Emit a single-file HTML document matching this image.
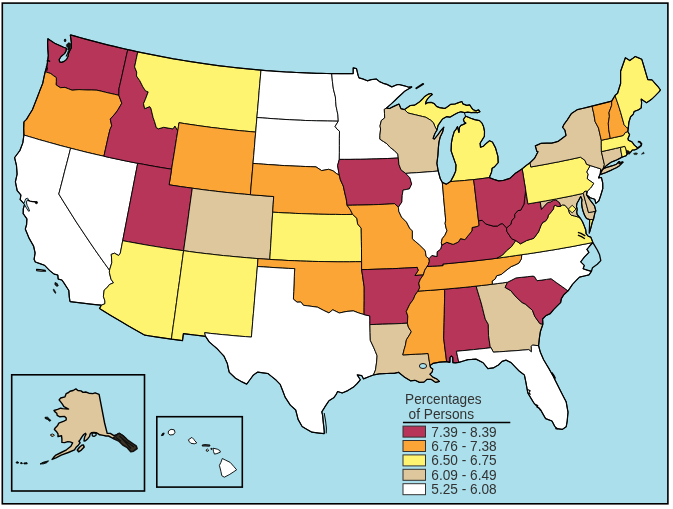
<!DOCTYPE html>
<html><head><meta charset="utf-8"><style>
html,body{margin:0;padding:0;background:#fff;}
svg{display:block;will-change:transform;}
text{font-family:"Liberation Sans",Arial,sans-serif;fill:#333;}
</style></head><body>
<svg width="673" height="509" viewBox="0 0 673 509">
<rect x="0" y="0" width="673" height="509" fill="#fff"/>
<rect x="2.3" y="3.1" width="665.6" height="500.7" fill="#AADFEB" stroke="#000" stroke-width="1.6"/>
<g stroke="#000" stroke-width="0.9" stroke-linejoin="round">
<path fill="#B8355A" d="M70.3,34.8 75.1,36.2 79.8,37.5 84.6,38.8 89.4,40.1 94.2,41.4 98.9,42.6 103.7,43.9 108.5,45.1 113.3,46.2 118.2,47.4 123.0,48.5 127.8,49.6 126.3,56.1 124.9,62.6 123.4,69.1 122.0,75.6 120.5,82.1 119.0,88.6 118.8,95.3 114.5,94.3 110.1,93.3 105.7,92.3 101.3,91.2 96.9,90.2 94.1,90.1 91.3,90.0 86.8,90.0 82.9,89.8 79.0,89.6 75.5,89.9 72.1,90.2 68.5,88.8 64.9,87.4 60.3,87.7 56.0,84.8 56.3,81.7 56.3,77.6 53.5,75.7 50.8,73.6 48.0,72.6 45.2,71.7 46.9,65.9 47.5,62.0 48.3,55.7 47.8,49.1 47.6,42.5 47.9,38.7 51.3,41.0 54.7,43.3 59.1,45.2 63.5,47.2 66.5,48.2 66.0,51.1 64.6,53.6 61.1,56.5 59.2,59.5 59.6,61.9 61.5,62.4 64.1,61.4 66.5,59.5 68.0,56.5 68.5,53.6 69.5,51.2 71.4,47.7 71.4,42.8 70.3,34.8Z"/>
<path fill="#FBA537" d="M45.2,71.7 48.0,72.6 50.8,73.6 53.5,75.7 56.3,77.6 56.3,81.7 56.0,84.8 60.3,87.7 64.9,87.4 68.5,88.8 72.1,90.2 75.5,89.9 79.0,89.6 82.9,89.8 86.8,90.0 91.3,90.0 94.1,90.1 96.9,90.2 101.3,91.2 105.7,92.3 110.1,93.3 114.5,94.3 118.8,95.3 121.8,103.2 118.1,109.6 115.7,113.0 110.3,119.1 111.7,125.8 110.0,129.4 108.4,136.1 106.9,142.8 105.4,149.5 103.9,156.2 98.4,155.0 92.8,153.7 87.2,152.4 81.7,151.0 76.2,149.6 70.6,148.2 65.4,146.8 60.2,145.5 55.0,144.0 49.8,142.6 44.6,141.1 39.4,139.7 34.2,138.1 29.1,136.6 23.9,135.0 23.7,128.4 23.9,121.9 26.5,119.4 29.4,114.5 32.4,109.7 35.0,103.1 37.6,96.5 40.1,89.9 42.7,83.4 43.9,77.5 45.2,71.7Z"/>
<path fill="#FFFFFF" d="M23.9,135.0 29.1,136.6 34.2,138.1 39.4,139.7 44.6,141.1 49.8,142.6 55.0,144.0 60.2,145.5 65.4,146.8 70.6,148.2 68.7,155.8 66.7,163.5 64.7,171.1 62.8,178.7 60.8,186.4 58.8,194.0 63.1,201.0 67.5,208.0 71.9,215.0 76.3,222.0 80.9,228.9 85.5,235.8 90.2,242.8 94.9,249.7 99.7,256.5 104.6,263.4 109.5,270.2 109.4,272.6 111.0,279.2 113.5,282.8 109.3,284.6 107.9,286.8 104.2,290.1 103.4,296.3 104.9,300.9 104.9,303.8 101.3,305.2 95.1,304.6 88.8,303.9 82.5,303.1 76.3,302.4 70.0,301.6 69.3,297.1 68.8,290.5 63.9,282.9 61.9,280.0 58.2,279.1 57.8,275.0 54.1,274.1 49.7,270.6 44.4,265.2 39.9,263.6 35.3,262.0 34.1,259.3 35.1,253.0 33.6,246.1 29.2,238.4 25.3,229.1 26.6,224.5 26.9,218.9 23.2,213.7 23.3,208.8 24.6,204.3 20.2,199.7 20.9,195.0 17.2,190.6 15.4,181.9 17.1,174.1 16.5,165.7 14.6,157.7 17.3,154.0 20.0,150.3 22.8,142.9 23.9,135.0Z"/>
<path fill="#FFFFFF" d="M70.6,148.2 76.2,149.6 81.7,151.0 87.2,152.4 92.8,153.7 98.4,155.0 103.9,156.2 109.5,157.5 115.1,158.7 120.8,159.9 126.4,161.1 132.0,162.2 137.7,163.3 136.2,171.0 134.7,178.7 133.2,186.5 131.7,194.2 130.2,202.0 128.7,209.7 127.2,217.4 125.7,225.2 124.2,232.9 122.7,240.7 121.5,247.0 120.3,253.2 118.6,255.5 114.5,253.2 111.2,254.4 111.5,257.0 111.8,262.7 109.5,270.2 104.6,263.4 99.7,256.5 94.9,249.7 90.2,242.8 85.5,235.8 80.9,228.9 76.3,222.0 71.9,215.0 67.5,208.0 63.1,201.0 58.8,194.0 60.8,186.4 62.8,178.7 64.7,171.1 66.7,163.5 68.7,155.8 70.6,148.2Z"/>
<path fill="#B8355A" d="M127.8,49.6 132.8,50.7 137.8,51.8 136.2,59.4 134.6,66.9 136.7,72.1 136.5,76.0 139.8,80.7 142.9,86.9 145.6,90.9 148.2,91.9 145.4,99.3 143.5,103.7 144.7,108.7 149.7,106.6 150.9,108.3 152.0,112.9 153.1,117.5 154.6,121.7 156.3,127.6 158.4,128.8 163.7,127.3 168.3,128.1 173.0,128.9 174.9,126.0 177.8,130.8 176.5,138.5 175.3,146.2 174.1,153.8 172.8,161.5 171.6,169.2 165.9,168.3 160.3,167.4 154.6,166.4 149.0,165.4 143.3,164.3 137.7,163.3 132.0,162.2 126.4,161.1 120.8,159.9 115.1,158.7 109.5,157.5 103.9,156.2 105.4,149.5 106.9,142.8 108.4,136.1 110.0,129.4 111.7,125.8 110.3,119.1 115.7,113.0 118.1,109.6 121.8,103.2 118.8,95.3 119.0,88.6 120.5,82.1 122.0,75.6 123.4,69.1 124.9,62.6 126.3,56.1 127.8,49.6Z"/>
<path fill="#FFF46F" d="M137.8,51.8 142.9,52.9 148.0,53.9 153.1,54.9 158.2,55.9 163.3,56.9 168.4,57.8 173.5,58.8 178.6,59.6 183.7,60.5 188.9,61.3 194.0,62.1 199.1,62.9 204.2,63.7 209.4,64.4 214.5,65.1 219.7,65.8 224.8,66.4 230.0,67.0 235.1,67.6 240.3,68.2 245.5,68.7 250.6,69.2 255.8,69.7 261.0,70.1 260.4,76.9 259.8,83.6 259.2,90.4 258.7,97.1 258.1,103.9 257.5,110.7 256.9,117.5 256.3,124.8 255.7,132.1 250.2,131.6 244.7,131.1 239.2,130.6 233.7,130.0 228.2,129.4 222.8,128.8 217.3,128.1 211.8,127.5 206.3,126.7 200.9,126.0 195.4,125.2 189.9,124.4 184.5,123.6 179.0,122.7 178.4,126.8 177.8,130.8 174.9,126.0 173.0,128.9 168.3,128.1 163.7,127.3 158.4,128.8 156.3,127.6 154.6,121.7 153.1,117.5 152.0,112.9 150.9,108.3 149.7,106.6 144.7,108.7 143.5,103.7 145.4,99.3 148.2,91.9 145.6,90.9 142.9,86.9 139.8,80.7 136.5,76.0 136.7,72.1 134.6,66.9 136.2,59.4 137.8,51.8Z"/>
<path fill="#FBA537" d="M179.0,122.7 184.5,123.6 189.9,124.4 195.4,125.2 200.9,126.0 206.3,126.7 211.8,127.5 217.3,128.1 222.8,128.8 228.2,129.4 233.7,130.0 239.2,130.6 244.7,131.1 250.2,131.6 255.7,132.1 255.0,139.9 254.4,147.7 253.7,155.5 253.0,163.4 252.4,171.2 251.7,179.0 251.0,186.9 250.4,194.7 244.6,194.2 238.7,193.7 232.9,193.1 227.1,192.5 221.3,191.9 215.5,191.2 209.7,190.5 203.9,189.8 198.1,189.0 192.3,188.2 186.5,187.4 180.7,186.6 174.9,185.7 169.1,184.8 170.4,177.0 171.6,169.2 172.8,161.5 174.1,153.8 175.3,146.2 176.5,138.5 177.8,130.8 178.4,126.8 179.0,122.7Z"/>
<path fill="#B8355A" d="M137.7,163.3 143.3,164.3 149.0,165.4 154.6,166.4 160.3,167.4 165.9,168.3 171.6,169.2 170.4,177.0 169.1,184.8 174.9,185.7 180.7,186.6 186.5,187.4 192.3,188.2 191.2,196.0 190.1,203.9 189.0,211.7 188.0,219.5 186.9,227.3 185.8,235.1 184.7,242.9 183.6,250.7 177.5,249.9 171.4,249.0 165.3,248.1 159.2,247.1 153.1,246.1 147.0,245.1 140.9,244.0 134.8,242.9 128.7,241.8 122.7,240.7 124.2,232.9 125.7,225.2 127.2,217.4 128.7,209.7 130.2,202.0 131.7,194.2 133.2,186.5 134.7,178.7 136.2,171.0 137.7,163.3Z"/>
<path fill="#DEC79C" d="M192.3,188.2 198.1,189.0 203.9,189.8 209.7,190.5 215.5,191.2 221.3,191.9 227.1,192.5 232.9,193.1 238.7,193.7 244.6,194.2 250.4,194.7 256.2,195.2 262.0,195.6 267.9,196.1 273.7,196.5 273.2,204.3 272.7,212.2 272.2,220.1 271.7,227.9 271.3,235.8 270.8,243.7 270.3,251.6 269.8,259.4 263.9,259.0 258.0,258.6 252.2,258.2 246.5,257.7 240.8,257.2 235.1,256.7 229.3,256.1 223.6,255.6 217.9,255.0 212.2,254.3 206.5,253.7 200.7,253.0 195.0,252.3 189.3,251.5 183.6,250.7 184.7,242.9 185.8,235.1 186.9,227.3 188.0,219.5 189.0,211.7 190.1,203.9 191.2,196.0 192.3,188.2Z"/>
<path fill="#FFF46F" d="M122.7,240.7 128.7,241.8 134.8,242.9 140.9,244.0 147.0,245.1 153.1,246.1 159.2,247.1 165.3,248.1 171.4,249.0 177.5,249.9 183.6,250.7 182.6,258.1 181.6,265.5 180.6,272.9 179.6,280.3 178.5,287.6 177.5,295.0 176.5,302.4 175.5,309.7 174.5,317.1 173.4,324.5 172.4,331.8 171.4,339.2 166.1,338.4 160.8,337.6 155.5,336.8 150.2,336.0 144.8,335.2 139.1,332.0 133.3,328.7 127.6,325.4 121.9,322.1 116.3,318.7 110.7,315.4 105.1,312.0 99.5,308.5 101.3,305.2 104.9,303.8 104.9,300.9 103.4,296.3 104.2,290.1 107.9,286.8 109.3,284.6 113.5,282.8 111.0,279.2 109.4,272.6 109.5,270.2 111.8,262.7 111.5,257.0 111.2,254.4 114.5,253.2 118.6,255.5 120.3,253.2 121.5,247.0 122.7,240.7Z"/>
<path fill="#FFF46F" d="M183.6,250.7 189.3,251.5 195.0,252.3 200.7,253.0 206.5,253.7 212.2,254.3 217.9,255.0 223.6,255.6 229.3,256.1 235.1,256.7 240.8,257.2 246.5,257.7 252.2,258.2 258.0,258.6 257.4,266.5 256.7,274.3 256.1,282.2 255.4,290.0 254.7,297.9 254.1,305.7 253.4,313.6 252.7,321.4 252.1,329.3 251.4,337.1 245.5,336.6 239.7,336.2 233.9,335.7 228.0,335.1 222.2,334.6 216.3,334.0 210.5,333.4 204.7,332.7 205.5,336.3 199.9,335.7 194.4,335.0 188.9,334.3 183.4,333.6 182.5,340.6 177.0,339.9 171.4,339.2 172.4,331.8 173.4,324.5 174.5,317.1 175.5,309.7 176.5,302.4 177.5,295.0 178.5,287.6 179.6,280.3 180.6,272.9 181.6,265.5 182.6,258.1 183.6,250.7Z"/>
<path fill="#FFFFFF" d="M261.0,70.1 266.0,70.6 271.0,70.9 276.1,71.3 281.1,71.6 286.2,72.0 291.2,72.2 296.3,72.5 301.3,72.7 306.4,72.9 311.4,73.1 316.5,73.3 321.5,73.4 326.6,73.5 331.7,73.6 332.4,81.3 333.4,89.1 335.4,96.9 335.7,101.5 336.1,106.2 337.0,110.5 337.9,114.8 338.3,121.2 332.9,121.1 327.5,121.0 322.0,120.9 316.6,120.8 311.2,120.6 305.7,120.5 300.3,120.2 294.9,120.0 289.5,119.7 284.0,119.4 278.6,119.1 273.2,118.7 267.8,118.3 262.4,117.9 256.9,117.5 257.5,110.7 258.1,103.9 258.7,97.1 259.2,90.4 259.8,83.6 260.4,76.9 261.0,70.1Z"/>
<path fill="#FFFFFF" d="M256.9,117.5 262.4,117.9 267.8,118.3 273.2,118.7 278.6,119.1 284.0,119.4 289.5,119.7 294.9,120.0 300.3,120.2 305.7,120.5 311.2,120.6 316.6,120.8 322.0,120.9 327.5,121.0 332.9,121.1 338.3,121.2 335.1,126.4 337.0,129.1 339.5,131.2 339.4,138.2 339.4,145.3 339.4,152.3 339.3,159.4 337.6,165.6 338.7,171.9 339.3,175.2 336.4,173.5 333.0,170.8 328.5,169.3 325.0,170.0 321.6,170.6 316.0,166.9 310.8,166.7 305.5,166.5 300.3,166.3 295.0,166.1 289.8,165.8 284.5,165.6 279.3,165.3 274.0,164.9 268.8,164.6 263.5,164.2 258.3,163.8 253.0,163.4 253.7,155.5 254.4,147.7 255.0,139.9 255.7,132.1 256.3,124.8 256.9,117.5Z"/>
<path fill="#FBA537" d="M253.0,163.4 258.3,163.8 263.5,164.2 268.8,164.6 274.0,164.9 279.3,165.3 284.5,165.6 289.8,165.8 295.0,166.1 300.3,166.3 305.5,166.5 310.8,166.7 316.0,166.9 321.6,170.6 325.0,170.0 328.5,169.3 333.0,170.8 336.4,173.5 339.3,175.2 340.4,179.8 343.3,186.1 345.0,194.0 346.2,198.7 347.1,205.3 350.3,209.7 352.6,214.4 346.9,214.5 341.2,214.5 335.5,214.4 329.8,214.4 324.1,214.3 318.3,214.2 312.6,214.0 306.9,213.8 301.2,213.6 295.5,213.4 289.8,213.1 284.1,212.9 278.4,212.5 272.7,212.2 273.2,204.3 273.7,196.5 267.9,196.1 262.0,195.6 256.2,195.2 250.4,194.7 251.0,186.9 251.7,179.0 252.4,171.2 253.0,163.4Z"/>
<path fill="#FFF46F" d="M272.7,212.2 278.4,212.5 284.1,212.9 289.8,213.1 295.5,213.4 301.2,213.6 306.9,213.8 312.6,214.0 318.3,214.2 324.1,214.3 329.8,214.4 335.5,214.4 341.2,214.5 346.9,214.5 352.6,214.4 356.9,218.3 357.6,223.9 361.2,228.2 361.3,234.9 361.4,241.6 361.5,248.3 361.5,255.0 361.6,261.7 355.5,261.7 349.4,261.8 343.2,261.8 337.1,261.8 331.0,261.7 324.9,261.6 318.7,261.5 312.6,261.4 306.5,261.2 300.4,261.0 294.3,260.7 288.2,260.5 282.0,260.1 275.9,259.8 269.8,259.4 270.3,251.6 270.8,243.7 271.3,235.8 271.7,227.9 272.2,220.1 272.7,212.2Z"/>
<path fill="#FBA537" d="M258.0,258.6 263.9,259.0 269.8,259.4 275.9,259.8 282.0,260.1 288.2,260.5 294.3,260.7 300.4,261.0 306.5,261.2 312.6,261.4 318.7,261.5 324.9,261.6 331.0,261.7 337.1,261.8 343.2,261.8 349.4,261.8 355.5,261.7 361.6,261.7 361.6,269.6 362.5,275.3 363.3,281.1 364.2,286.9 364.2,293.8 364.2,300.7 364.1,307.7 364.1,314.6 358.6,312.9 353.4,310.9 347.0,311.4 343.1,312.2 339.3,313.0 332.8,309.8 328.9,312.9 323.8,310.5 317.5,307.2 311.1,306.3 307.2,305.8 303.4,305.3 300.9,302.0 297.1,302.2 293.4,299.2 293.7,291.6 294.0,283.9 294.3,276.3 294.7,268.6 288.4,268.4 282.2,268.1 276.0,267.7 269.8,267.3 263.6,266.9 257.4,266.5 258.0,258.6Z"/>
<path fill="#FFFFFF" d="M257.4,266.5 263.6,266.9 269.8,267.3 276.0,267.7 282.2,268.1 288.4,268.4 294.7,268.6 294.3,276.3 294.0,283.9 293.7,291.6 293.4,299.2 297.1,302.2 300.9,302.0 303.4,305.3 307.2,305.8 311.1,306.3 317.5,307.2 323.8,310.5 328.9,312.9 332.8,309.8 339.3,313.0 343.1,312.2 347.0,311.4 353.4,310.9 358.6,312.9 364.1,314.6 369.8,315.9 369.9,320.2 369.9,324.6 370.1,332.4 370.3,340.3 373.6,347.3 375.4,351.5 377.1,355.8 376.6,362.1 375.5,369.9 373.4,375.0 368.8,376.7 363.5,378.9 361.9,375.7 357.2,374.9 360.3,379.8 357.2,383.5 354.0,386.7 347.8,390.6 342.2,393.0 337.6,391.5 336.0,394.7 333.7,397.8 328.9,400.8 325.7,405.6 321.8,411.9 322.6,415.1 323.3,422.8 323.8,426.8 324.2,430.8 324.3,433.7 318.9,433.1 311.9,432.2 307.0,429.4 302.1,426.5 298.1,419.4 296.9,414.7 295.7,410.0 290.3,405.1 285.1,397.1 282.7,390.7 280.2,384.4 276.3,380.3 272.1,376.9 267.9,373.5 262.8,372.8 257.8,372.1 253.5,374.9 250.1,379.5 246.7,384.1 242.0,381.9 235.5,378.2 229.2,372.2 228.2,367.8 227.3,363.4 223.9,356.0 220.2,352.1 216.6,348.2 212.9,345.1 209.2,341.9 205.5,336.3 204.7,332.7 210.5,333.4 216.3,334.0 222.2,334.6 228.0,335.1 233.9,335.7 239.7,336.2 245.5,336.6 251.4,337.1 252.1,329.3 252.7,321.4 253.4,313.6 254.1,305.7 254.7,297.9 255.4,290.0 256.1,282.2 256.7,274.3 257.4,266.5Z"/>
<path fill="#FFFFFF" d="M331.7,73.6 336.0,73.6 340.3,73.7 344.6,73.7 348.9,73.7 353.2,73.6 353.2,67.8 356.5,68.7 358.1,75.4 359.0,77.9 362.7,78.9 367.4,80.8 371.1,79.7 376.3,79.0 379.5,81.6 383.2,83.3 386.9,84.4 391.8,86.9 396.9,84.7 399.0,84.5 404.4,85.8 408.7,87.2 412.1,86.9 408.4,89.0 404.7,91.2 401.2,94.5 397.6,97.8 394.6,100.7 391.5,103.6 386.3,108.2 384.3,109.3 384.5,113.6 384.7,117.9 381.4,120.4 380.0,125.9 380.6,129.0 379.9,135.3 379.9,139.2 383.3,141.4 386.7,143.6 390.2,147.4 394.2,150.4 397.8,154.1 398.3,158.0 393.0,158.3 387.6,158.5 382.2,158.7 376.9,158.9 371.5,159.0 366.2,159.2 360.8,159.3 355.4,159.3 350.1,159.4 344.7,159.4 339.3,159.4 339.4,152.3 339.4,145.3 339.4,138.2 339.5,131.2 337.0,129.1 335.1,126.4 338.3,121.2 337.9,114.8 337.0,110.5 336.1,106.2 335.7,101.5 335.4,96.9 333.4,89.1 332.4,81.3 331.7,73.6Z"/>
<path fill="#B8355A" d="M339.3,159.4 344.7,159.4 350.1,159.4 355.4,159.3 360.8,159.3 366.2,159.2 371.5,159.0 376.9,158.9 382.2,158.7 387.6,158.5 393.0,158.3 398.3,158.0 398.9,164.3 400.9,169.7 405.7,173.4 409.9,177.8 411.7,184.0 409.4,188.9 406.2,189.5 403.1,190.1 402.2,195.6 401.9,202.0 398.4,207.2 394.6,203.7 389.3,204.0 384.1,204.3 378.8,204.5 373.5,204.7 368.2,204.9 363.0,205.0 357.7,205.1 352.4,205.2 347.1,205.3 346.2,198.7 345.0,194.0 343.3,186.1 340.4,179.8 339.3,175.2 338.7,171.9 337.6,165.6 339.3,159.4Z"/>
<path fill="#FBA537" d="M347.1,205.3 352.4,205.2 357.7,205.1 363.0,205.0 368.2,204.9 373.5,204.7 378.8,204.5 384.1,204.3 389.3,204.0 394.6,203.7 398.4,207.2 398.8,211.3 401.5,217.1 406.5,222.1 409.6,228.1 412.4,230.9 412.4,238.8 415.8,241.8 419.3,244.7 425.2,250.5 426.2,256.4 429.0,258.7 429.4,261.2 428.4,264.6 427.1,266.5 424.8,270.1 423.3,275.0 419.1,275.2 414.9,275.5 418.2,270.5 417.2,267.4 411.0,267.8 404.8,268.1 398.7,268.4 392.5,268.7 386.3,268.9 380.1,269.1 373.9,269.3 367.8,269.5 361.6,269.6 361.6,261.7 361.5,255.0 361.5,248.3 361.4,241.6 361.3,234.9 361.2,228.2 357.6,223.9 356.9,218.3 352.6,214.4 350.3,209.7 347.1,205.3Z"/>
<path fill="#B8355A" d="M361.6,269.6 367.8,269.5 373.9,269.3 380.1,269.1 386.3,268.9 392.5,268.7 398.7,268.4 404.8,268.1 411.0,267.8 417.2,267.4 418.2,270.5 414.9,275.5 419.1,275.2 423.3,275.0 420.4,279.1 418.8,283.1 419.7,287.8 418.0,291.1 416.8,292.7 415.0,295.2 413.4,299.3 409.8,304.2 406.3,311.5 407.8,316.1 407.4,323.2 401.2,323.5 394.9,323.8 388.7,324.0 382.4,324.2 376.2,324.4 369.9,324.6 369.9,320.2 369.8,315.9 364.1,314.6 364.1,307.7 364.2,300.7 364.2,293.8 364.2,286.9 363.3,281.1 362.5,275.3 361.6,269.6Z"/>
<path fill="#DEC79C" d="M369.9,324.6 376.2,324.4 382.4,324.2 388.7,324.0 394.9,323.8 401.2,323.5 407.4,323.2 408.4,327.1 411.3,331.7 409.5,334.9 406.4,339.8 405.4,345.3 404.2,349.3 402.8,354.9 409.1,354.6 415.4,354.2 421.8,353.9 428.1,353.5 429.3,361.2 430.0,365.6 430.5,367.4 432.8,369.0 432.2,372.0 429.9,374.2 432.8,377.1 437.3,379.3 439.5,381.5 435.7,382.4 431.3,379.4 426.9,379.4 424.0,382.1 419.5,382.4 415.0,380.3 410.5,380.8 404.6,377.2 400.9,374.2 398.5,372.3 394.2,373.3 390.5,373.4 386.7,373.5 383.0,373.7 379.4,373.8 373.4,375.0 375.5,369.9 376.6,362.1 377.1,355.8 375.4,351.5 373.6,347.3 370.3,340.3 370.1,332.4 369.9,324.6Z"/>
<path fill="#FBA537" d="M443.3,289.3 437.0,289.8 430.6,290.3 424.3,290.7 418.0,291.1 416.8,292.7 415.0,295.2 413.4,299.3 409.8,304.2 406.3,311.5 407.8,316.1 407.4,323.2 408.4,327.1 411.3,331.7 409.5,334.9 406.4,339.8 405.4,345.3 404.2,349.3 402.8,354.9 409.1,354.6 415.4,354.2 421.8,353.9 428.1,353.5 429.3,361.2 430.0,365.6 433.2,363.3 439.8,362.1 446.6,361.7 445.9,355.8 445.1,349.9 444.4,344.1 443.7,338.2 443.9,330.3 444.1,322.4 444.3,314.5 444.4,306.6 444.6,298.7 444.7,290.7 443.3,289.3Z"/>
<path fill="#B8355A" d="M476.1,286.1 470.7,286.7 465.2,287.3 459.7,287.8 454.3,288.3 448.8,288.8 443.3,289.3 444.7,290.7 444.6,298.7 444.4,306.6 444.3,314.5 444.1,322.4 443.9,330.3 443.7,338.2 444.4,344.1 445.1,349.9 445.9,355.8 446.6,361.7 449.9,362.4 450.0,357.5 451.2,356.0 452.7,357.3 452.9,362.7 455.4,362.8 458.8,362.4 457.6,356.8 456.4,351.3 462.2,350.7 468.0,350.2 473.7,349.6 479.5,349.0 485.2,348.4 491.0,347.7 490.1,346.3 489.3,340.8 488.5,335.4 488.4,329.9 488.3,324.4 485.3,319.2 483.9,313.8 482.6,308.4 481.2,303.0 479.5,297.4 477.8,291.8 476.1,286.1Z"/>
<path fill="#DEC79C" d="M492.3,284.2 486.9,284.9 481.5,285.5 476.1,286.1 477.8,291.8 479.5,297.4 481.2,303.0 482.6,308.4 483.9,313.8 485.3,319.2 488.3,324.4 488.4,329.9 488.5,335.4 489.3,340.8 490.1,346.3 491.0,347.7 493.4,352.2 499.3,351.8 505.2,351.4 511.1,351.0 517.0,350.6 522.9,350.1 528.8,349.6 531.4,351.9 531.3,346.4 532.4,345.1 538.6,345.7 539.4,338.0 540.4,331.5 542.9,324.2 539.9,323.6 534.8,316.5 532.5,310.4 525.7,304.3 522.1,302.5 516.1,297.0 510.7,290.6 505.1,287.4 507.6,282.2 502.5,282.9 497.4,283.6 492.3,284.2Z"/>
<path fill="#FFFFFF" d="M491.0,347.7 485.2,348.4 479.5,349.0 473.7,349.6 468.0,350.2 462.2,350.7 456.4,351.3 457.6,356.8 458.8,362.4 463.4,361.0 468.0,359.6 472.0,359.4 476.0,359.1 483.2,362.8 487.9,368.6 493.3,367.9 498.4,365.0 502.1,361.4 506.0,360.1 511.1,362.6 515.1,366.8 519.1,371.0 524.4,375.0 525.2,378.9 526.0,382.8 526.9,387.9 527.8,392.9 530.9,398.1 534.0,403.2 540.5,409.6 543.0,414.1 545.6,418.6 552.0,421.0 554.7,426.3 557.1,428.7 562.2,429.4 566.2,426.8 567.2,421.1 567.6,416.6 568.0,412.2 567.1,407.1 566.2,401.9 563.5,396.7 560.3,390.4 557.1,384.1 555.2,380.3 553.4,376.5 551.2,372.7 549.1,368.9 546.3,364.2 543.5,359.5 540.3,352.1 538.6,345.7 532.4,345.1 531.3,346.4 531.4,351.9 528.8,349.6 522.9,350.1 517.0,350.6 511.1,351.0 505.2,351.4 499.3,351.8 493.4,352.2 491.0,347.7Z"/>
<path fill="#B8355A" d="M507.6,282.2 511.8,280.1 516.0,277.9 521.7,277.3 527.3,276.7 533.0,276.1 534.6,276.7 537.0,280.7 541.7,280.1 546.4,279.4 551.1,278.7 556.7,282.8 562.4,286.8 568.1,290.9 563.8,294.7 561.4,298.6 560.6,302.6 557.5,305.7 553.6,309.6 550.3,313.6 545.7,315.8 542.6,319.0 542.9,324.2 539.9,323.6 534.8,316.5 532.5,310.4 525.7,304.3 522.1,302.5 516.1,297.0 510.7,290.6 505.1,287.4 507.6,282.2Z"/>
<path fill="#FFFFFF" d="M592.9,242.5 586.9,243.7 581.0,244.8 575.1,246.0 569.2,247.1 563.3,248.1 557.4,249.2 551.4,250.2 545.5,251.1 539.5,252.1 533.6,253.0 527.6,253.9 521.7,254.7 521.4,258.8 518.9,263.1 514.2,265.4 511.2,266.6 506.0,270.5 501.5,274.3 496.6,275.8 495.1,279.1 492.1,281.1 492.3,284.2 497.4,283.6 502.5,282.9 507.6,282.2 511.8,280.1 516.0,277.9 521.7,277.3 527.3,276.7 533.0,276.1 534.6,276.7 537.0,280.7 541.7,280.1 546.4,279.4 551.1,278.7 556.7,282.8 562.4,286.8 568.1,290.9 572.5,284.3 576.0,280.7 579.5,277.1 584.3,276.0 589.0,274.9 591.4,271.3 587.2,270.1 583.1,268.8 584.3,265.4 580.7,261.8 584.3,257.2 588.9,252.3 586.9,249.4 591.0,244.5 592.9,242.5Z"/>
<path fill="#FBA537" d="M497.1,258.2 491.1,259.0 485.0,259.7 479.0,260.4 473.0,261.1 467.0,261.7 461.0,262.3 454.9,262.9 448.9,263.5 442.8,264.0 443.0,265.6 437.7,265.9 432.4,266.2 427.1,266.5 424.8,270.1 423.3,275.0 420.4,279.1 418.8,283.1 419.7,287.8 418.0,291.1 424.3,290.7 430.6,290.3 437.0,289.8 443.3,289.3 448.8,288.8 454.3,288.3 459.7,287.8 465.2,287.3 470.7,286.7 476.1,286.1 481.5,285.5 486.9,284.9 492.3,284.2 492.1,281.1 495.1,279.1 496.6,275.8 501.5,274.3 506.0,270.5 511.2,266.6 514.2,265.4 518.9,263.1 521.4,258.8 521.7,254.7 515.5,255.6 509.4,256.5 503.2,257.4 497.1,258.2Z"/>
<path fill="#B8355A" d="M497.1,258.2 491.1,259.0 485.0,259.7 479.0,260.4 473.0,261.1 467.0,261.7 461.0,262.3 454.9,262.9 448.9,263.5 442.8,264.0 443.0,265.6 437.7,265.9 432.4,266.2 427.1,266.5 428.4,264.6 429.4,261.2 429.0,258.7 431.9,255.4 436.9,256.6 437.1,251.8 440.6,249.1 441.8,245.1 446.8,242.3 453.1,244.4 458.4,242.0 460.5,238.6 464.9,239.7 468.7,234.9 471.9,231.0 472.1,227.5 476.9,226.5 478.9,225.5 478.5,220.8 482.2,220.3 485.7,223.9 488.2,224.7 493.3,226.1 497.5,226.0 500.9,223.8 502.7,223.7 506.5,227.9 506.8,231.4 509.2,235.0 511.6,238.7 515.9,240.6 511.5,246.7 506.5,250.9 502.7,255.1 497.1,258.2Z"/>
<path fill="#FFF46F" d="M592.9,242.5 586.9,243.7 581.0,244.8 575.1,246.0 569.2,247.1 563.3,248.1 557.4,249.2 551.4,250.2 545.5,251.1 539.5,252.1 533.6,253.0 527.6,253.9 521.7,254.7 515.5,255.6 509.4,256.5 503.2,257.4 497.1,258.2 502.7,255.1 506.5,250.9 511.5,246.7 515.9,240.6 520.4,243.8 523.6,242.2 526.7,240.5 530.3,239.4 533.8,238.3 538.5,231.9 539.8,228.5 541.0,225.4 542.9,222.2 545.2,221.4 547.6,218.3 548.4,215.1 549.9,213.5 551.5,211.6 553.5,208.9 553.9,206.1 555.3,205.3 557.8,206.5 560.2,206.5 562.5,204.9 564.9,205.2 568.2,208.9 569.7,213.6 571.5,215.3 574.4,215.9 578.5,217.1 580.4,218.3 582.5,221.8 584.1,225.6 585.7,229.7 586.1,233.6 588.1,236.2 590.8,237.1 592.9,242.5Z"/>
<path fill="#FFF46F" d="M593.5,219.3 592.4,221.8 590.8,228.1 589.3,233.2 589.5,225.9 589.6,219.6 593.5,219.3Z"/>
<path fill="#B8355A" d="M506.5,227.9 510.7,224.5 511.9,220.3 514.6,217.5 514.7,214.3 517.8,210.6 520.7,210.2 524.0,204.1 524.6,198.4 525.3,193.5 525.6,189.6 526.8,196.7 527.9,203.9 532.0,203.2 536.1,202.5 540.2,201.8 541.5,209.3 543.6,206.8 547.6,202.6 550.7,201.9 553.5,200.2 555.4,199.8 557.5,201.1 559.5,202.6 560.5,205.0 560.2,206.5 557.8,206.5 555.3,205.3 553.9,206.1 553.5,208.9 551.5,211.6 549.9,213.5 548.4,215.1 547.6,218.3 545.2,221.4 542.9,222.2 541.0,225.4 539.8,228.5 538.5,231.9 533.8,238.3 530.3,239.4 526.7,240.5 523.6,242.2 520.4,243.8 515.9,240.6 511.6,238.7 509.2,235.0 506.8,231.4 506.5,227.9Z"/>
<path fill="#DEC79C" d="M540.2,201.8 545.6,200.9 551.0,199.9 556.4,198.9 561.8,197.8 567.1,196.8 572.5,195.7 577.9,194.5 583.3,193.4 585.0,199.8 586.8,206.2 588.5,212.6 592.2,211.9 595.9,211.1 594.9,212.8 593.5,219.3 589.6,219.6 586.5,218.5 584.5,215.1 583.0,211.0 582.0,207.0 581.6,202.9 582.0,199.5 580.7,196.4 578.6,200.5 576.9,203.5 576.5,206.4 577.2,209.5 576.7,212.0 577.2,214.5 578.8,216.4 580.4,218.3 578.5,217.1 574.4,215.9 571.5,215.3 569.7,213.6 568.2,208.9 564.9,205.2 562.5,204.9 560.2,206.5 560.5,205.0 559.5,202.6 557.5,201.1 555.4,199.8 553.5,200.2 550.7,201.9 547.6,202.6 543.6,206.8 541.5,209.3 540.2,201.8Z"/>
<path fill="#DEC79C" d="M583.3,193.4 584.0,191.9 585.1,191.1 587.3,191.2 586.5,194.6 589.2,198.9 594.5,205.8 595.9,211.1 592.2,211.9 588.5,212.6 586.8,206.2 585.0,199.8 583.3,193.4Z"/>
<path fill="#FFFFFF" d="M587.3,191.2 590.5,188.1 591.9,186.2 593.7,183.3 590.1,180.9 587.2,178.7 588.0,174.1 586.6,172.0 590.2,165.5 595.4,167.2 600.6,168.8 600.3,173.7 598.5,177.9 601.4,177.5 602.7,182.9 602.8,188.5 600.7,195.5 598.9,200.8 595.8,203.4 594.8,199.2 590.2,197.8 586.5,194.6 587.3,191.2Z"/>
<path fill="#FFF46F" d="M522.2,168.8 526.5,165.3 530.0,162.8 530.8,167.0 536.3,166.0 541.9,165.0 547.4,164.0 552.9,162.9 558.5,161.9 564.0,160.7 569.5,159.6 575.0,158.4 580.5,157.2 584.9,160.3 586.6,164.3 590.2,165.5 586.6,172.0 588.0,174.1 587.2,178.7 590.1,180.9 593.7,183.3 591.9,186.2 590.5,188.1 587.3,191.2 585.1,191.1 584.0,191.9 583.3,193.4 577.9,194.5 572.5,195.7 567.1,196.8 561.8,197.8 556.4,198.9 551.0,199.9 545.6,200.9 540.2,201.8 536.1,202.5 532.0,203.2 527.9,203.9 526.8,196.7 525.6,189.6 524.4,182.6 523.3,175.7 522.2,168.8Z"/>
<path fill="#DEC79C" d="M580.5,157.2 575.0,158.4 569.5,159.6 564.0,160.7 558.5,161.9 552.9,162.9 547.4,164.0 541.9,165.0 536.3,166.0 530.8,167.0 530.0,162.8 534.6,158.3 538.0,151.7 536.9,151.5 535.3,145.9 538.2,144.6 541.1,143.3 546.3,143.2 551.5,143.2 554.8,142.3 558.0,141.4 563.0,137.7 566.0,135.4 564.9,130.1 562.6,127.3 563.8,124.7 567.3,119.9 571.5,113.4 574.5,111.5 577.5,109.6 582.3,108.5 587.1,107.3 592.0,106.1 592.9,110.0 593.8,113.8 595.1,121.6 598.5,128.0 599.9,134.2 601.3,140.3 601.3,145.9 601.4,151.6 602.9,158.1 604.4,164.6 603.4,168.1 602.2,170.5 600.3,173.7 600.6,168.8 595.4,167.2 590.2,165.5 586.6,164.3 584.9,160.3 580.5,157.2Z"/>
<path fill="#DEC79C" d="M600.7,174.4 605.4,172.8 610.8,170.4 613.6,169.0 616.4,167.7 619.6,165.7 623.1,162.2 622.0,161.9 619.3,163.8 618.6,162.7 619.9,161.6 618.8,161.7 616.4,164.3 612.5,165.7 608.6,166.8 604.7,168.1 601.5,170.3 600.5,173.0 600.7,174.4Z"/>
<path fill="#DEC79C" d="M601.4,151.6 606.1,150.6 610.9,149.5 615.6,148.4 620.4,147.3 621.2,152.2 622.1,157.1 619.3,158.6 616.6,160.0 613.8,161.1 611.0,162.2 606.9,165.3 603.4,168.1 604.4,164.6 602.9,158.1 601.4,151.6Z"/>
<path fill="#FFF46F" d="M620.4,147.3 624.9,146.3 626.2,149.9 627.1,154.0 626.2,155.7 622.1,157.1 621.2,152.2 620.4,147.3Z"/>
<path fill="#FFF46F" d="M601.3,140.3 605.8,139.3 610.3,138.4 614.6,137.4 618.9,136.5 623.2,135.5 625.3,132.5 627.8,131.5 629.6,134.8 628.0,138.5 628.4,140.3 632.0,141.9 634.3,145.1 637.5,147.8 637.4,148.8 634.6,149.9 632.2,150.0 631.1,151.8 629.9,152.5 627.1,154.0 626.2,149.9 624.9,146.3 620.4,147.3 615.6,148.4 610.9,149.5 606.1,150.6 601.4,151.6 601.3,145.9 601.3,140.3Z"/>
<path fill="#FBA537" d="M592.0,106.1 596.9,104.9 601.9,103.6 606.8,102.4 611.7,101.1 611.7,105.3 609.0,112.5 609.4,116.4 608.3,123.2 608.7,129.5 609.5,134.0 610.3,138.4 605.8,139.3 601.3,140.3 599.9,134.2 598.5,128.0 595.1,121.6 593.8,113.8 592.9,110.0 592.0,106.1Z"/>
<path fill="#FBA537" d="M611.7,101.1 615.0,95.5 617.1,101.4 619.1,107.4 620.7,112.6 622.2,117.9 624.1,124.7 626.7,127.7 628.3,128.1 627.8,131.5 625.3,132.5 623.2,135.5 618.9,136.5 614.6,137.4 610.3,138.4 609.5,134.0 608.7,129.5 608.3,123.2 609.4,116.4 609.0,112.5 611.7,105.3 611.7,101.1Z"/>
<path fill="#FFF46F" d="M615.0,95.5 617.1,101.4 619.1,107.4 620.7,112.6 622.2,117.9 624.1,124.7 626.7,127.7 628.3,128.1 628.9,122.1 630.6,116.7 633.3,114.2 634.1,111.5 638.6,109.8 641.2,108.0 641.6,102.7 641.2,99.1 643.9,100.9 646.5,102.7 649.2,100.9 651.8,99.1 655.4,95.6 658.8,92.1 660.5,90.0 658.0,86.7 655.0,83.3 652.0,79.9 647.8,79.6 645.8,72.8 643.8,66.0 641.8,59.3 638.5,57.9 635.2,56.5 632.5,58.6 629.8,60.6 625.4,57.7 623.0,64.5 620.6,71.3 620.6,77.4 620.6,83.5 619.1,88.3 617.6,93.2 615.0,95.5Z"/>
<path fill="#FFF46F" d="M489.3,177.6 491.5,172.3 492.1,168.2 494.2,167.1 498.2,162.6 497.9,156.3 496.7,152.1 495.5,147.9 492.4,142.0 489.5,140.8 485.9,143.7 483.5,146.2 480.5,147.2 480.1,143.2 482.5,139.4 484.4,136.3 484.5,131.4 483.5,126.5 482.0,123.2 479.6,120.7 474.6,119.6 470.7,118.2 465.8,116.2 464.3,118.1 463.4,119.7 464.3,122.1 465.9,123.1 462.9,124.6 460.9,125.4 459.4,127.5 458.9,132.4 457.9,128.4 457.5,126.5 456.0,129.4 454.2,131.7 452.5,137.4 451.4,143.0 451.1,150.9 453.6,158.1 456.0,164.9 455.7,171.0 453.6,175.9 450.5,181.6 455.1,181.2 459.7,180.9 464.4,180.5 469.0,180.0 473.6,179.6 478.9,179.0 484.1,178.3 489.3,177.6Z"/>
<path fill="#FFF46F" d="M436.9,130.2 434.9,126.5 433.4,122.7 430.5,120.1 425.9,117.3 422.6,116.5 419.2,115.7 415.5,114.8 411.7,113.9 408.0,113.0 404.5,109.6 407.4,107.5 410.3,105.5 414.5,105.2 419.3,102.1 422.2,99.3 424.7,96.4 428.2,94.2 431.2,93.5 432.3,94.5 430.0,96.2 427.6,98.8 426.1,101.4 425.5,103.9 427.6,102.7 431.2,102.4 434.1,103.5 436.5,106.4 439.5,107.6 443.0,108.2 445.0,108.4 447.9,106.4 450.8,104.3 455.1,104.0 457.9,102.9 461.9,101.5 462.9,103.9 466.8,105.4 469.7,104.9 471.7,108.0 473.3,109.8 476.1,110.9 478.6,109.8 480.0,111.8 477.6,112.7 474.6,112.3 471.2,112.7 467.8,112.2 464.7,112.7 460.9,111.8 457.9,112.7 455.0,114.2 449.9,117.2 446.6,116.7 442.9,118.7 441.5,120.4 438.1,125.4 436.9,130.2Z"/>
<path fill="#DEC79C" d="M405.7,173.4 411.2,173.0 416.6,172.7 422.0,172.3 427.4,171.9 432.8,171.5 438.2,171.0 436.9,163.3 437.9,155.3 438.4,147.4 439.0,141.8 440.2,137.0 442.6,132.1 443.8,127.2 440.8,130.6 437.8,134.8 434.3,139.1 433.1,138.4 434.9,133.5 436.9,130.2 434.9,126.5 433.4,122.7 430.5,120.1 425.9,117.3 422.6,116.5 419.2,115.7 415.5,114.8 411.7,113.9 408.0,113.0 404.5,109.6 400.9,108.6 399.0,104.0 395.9,105.4 392.7,106.9 389.6,108.5 386.3,108.2 384.3,109.3 384.5,113.6 384.7,117.9 381.4,120.4 380.0,125.9 380.6,129.0 379.9,135.3 379.9,139.2 383.3,141.4 386.7,143.6 390.2,147.4 394.2,150.4 397.8,154.1 398.3,158.0 398.9,164.3 400.9,169.7 405.7,173.4Z"/>
<path fill="#FFFFFF" d="M405.7,173.4 411.2,173.0 416.6,172.7 422.0,172.3 427.4,171.9 432.8,171.5 438.2,171.0 440.3,178.8 442.3,182.4 443.0,189.9 443.6,197.5 444.3,205.1 445.0,212.6 445.7,220.2 445.1,223.4 446.1,228.1 447.0,230.7 444.9,235.3 442.2,238.7 441.3,242.8 441.8,245.1 440.6,249.1 437.1,251.8 436.9,256.6 431.9,255.4 429.0,258.7 426.2,256.4 425.2,250.5 419.3,244.7 415.8,241.8 412.4,238.8 412.4,230.9 409.6,228.1 406.5,222.1 401.5,217.1 398.8,211.3 398.4,207.2 401.9,202.0 402.2,195.6 403.1,190.1 406.2,189.5 409.4,188.9 411.7,184.0 409.9,177.8 405.7,173.4Z"/>
<path fill="#FBA537" d="M442.3,182.4 446.3,184.2 450.5,181.6 455.1,181.2 459.7,180.9 464.4,180.5 469.0,180.0 473.6,179.6 474.5,186.4 475.3,193.3 476.1,200.2 476.9,207.0 477.7,213.9 478.5,220.8 478.9,225.5 476.9,226.5 472.1,227.5 471.9,231.0 468.7,234.9 464.9,239.7 460.5,238.6 458.4,242.0 453.1,244.4 446.8,242.3 441.8,245.1 441.3,242.8 442.2,238.7 444.9,235.3 447.0,230.7 446.1,228.1 445.1,223.4 445.7,220.2 445.0,212.6 444.3,205.1 443.6,197.5 443.0,189.9 442.3,182.4Z"/>
<path fill="#B8355A" d="M473.6,179.6 478.9,179.0 484.1,178.3 489.3,177.6 494.8,179.7 498.5,180.8 503.1,180.5 506.5,179.4 509.9,178.4 515.0,173.6 518.6,171.2 522.2,168.8 523.3,175.7 524.4,182.6 525.6,189.6 525.3,193.5 524.6,198.4 524.0,204.1 520.7,210.2 517.8,210.6 514.7,214.3 514.6,217.5 511.9,220.3 510.7,224.5 506.5,227.9 502.7,223.7 500.9,223.8 497.5,226.0 493.3,226.1 488.2,224.7 485.7,223.9 482.2,220.3 478.5,220.8 477.7,213.9 476.9,207.0 476.1,200.2 475.3,193.3 474.5,186.4 473.6,179.6Z"/>
<path fill="none" stroke-width="1.2" d="M70.3,34.8 75.1,36.2 79.8,37.5 84.6,38.8 89.4,40.1 94.2,41.4 98.9,42.6 103.7,43.9 108.5,45.1 113.3,46.2 118.2,47.4 123.0,48.5 127.8,49.6 M45.2,71.7 46.9,65.9 47.5,62.0 48.3,55.7 47.8,49.1 47.6,42.5 47.9,38.7 51.3,41.0 54.7,43.3 59.1,45.2 63.5,47.2 66.5,48.2 66.0,51.1 64.6,53.6 61.1,56.5 59.2,59.5 59.6,61.9 61.5,62.4 64.1,61.4 66.5,59.5 68.0,56.5 68.5,53.6 69.5,51.2 71.4,47.7 71.4,42.8 70.3,34.8 M23.9,135.0 23.7,128.4 23.9,121.9 26.5,119.4 29.4,114.5 32.4,109.7 35.0,103.1 37.6,96.5 40.1,89.9 42.7,83.4 43.9,77.5 45.2,71.7 M101.3,305.2 95.1,304.6 88.8,303.9 82.5,303.1 76.3,302.4 70.0,301.6 M70.0,301.6 69.3,297.1 68.8,290.5 63.9,282.9 61.9,280.0 58.2,279.1 57.8,275.0 54.1,274.1 49.7,270.6 44.4,265.2 39.9,263.6 35.3,262.0 34.1,259.3 35.1,253.0 33.6,246.1 29.2,238.4 25.3,229.1 26.6,224.5 26.9,218.9 23.2,213.7 23.3,208.8 24.6,204.3 20.2,199.7 20.9,195.0 17.2,190.6 15.4,181.9 17.1,174.1 16.5,165.7 14.6,157.7 17.3,154.0 20.0,150.3 22.8,142.9 23.9,135.0 M127.8,49.6 132.8,50.7 137.8,51.8 M137.8,51.8 142.9,52.9 148.0,53.9 153.1,54.9 158.2,55.9 163.3,56.9 168.4,57.8 173.5,58.8 178.6,59.6 183.7,60.5 188.9,61.3 194.0,62.1 199.1,62.9 204.2,63.7 209.4,64.4 214.5,65.1 219.7,65.8 224.8,66.4 230.0,67.0 235.1,67.6 240.3,68.2 245.5,68.7 250.6,69.2 255.8,69.7 261.0,70.1 M171.4,339.2 166.1,338.4 160.8,337.6 155.5,336.8 150.2,336.0 144.8,335.2 139.1,332.0 133.3,328.7 127.6,325.4 121.9,322.1 116.3,318.7 110.7,315.4 105.1,312.0 99.5,308.5 101.3,305.2 M171.4,339.2 177.0,339.9 182.5,340.6 183.4,333.6 188.9,334.3 194.4,335.0 199.9,335.7 205.5,336.3 M261.0,70.1 266.0,70.6 271.0,70.9 276.1,71.3 281.1,71.6 286.2,72.0 291.2,72.2 296.3,72.5 301.3,72.7 306.4,72.9 311.4,73.1 316.5,73.3 321.5,73.4 326.6,73.5 331.7,73.6 M324.3,433.7 324.2,430.8 323.8,426.8 323.3,422.8 322.6,415.1 321.8,411.9 325.7,405.6 328.9,400.8 333.7,397.8 336.0,394.7 337.6,391.5 342.2,393.0 347.8,390.6 354.0,386.7 357.2,383.5 360.3,379.8 357.2,374.9 361.9,375.7 363.5,378.9 368.8,376.7 373.4,375.0 M205.5,336.3 209.2,341.9 212.9,345.1 216.6,348.2 220.2,352.1 223.9,356.0 227.3,363.4 228.2,367.8 229.2,372.2 235.5,378.2 242.0,381.9 246.7,384.1 250.1,379.5 253.5,374.9 257.8,372.1 262.8,372.8 267.9,373.5 272.1,376.9 276.3,380.3 280.2,384.4 282.7,390.7 285.1,397.1 290.3,405.1 295.7,410.0 296.9,414.7 298.1,419.4 302.1,426.5 307.0,429.4 311.9,432.2 318.9,433.1 324.3,433.7 M331.7,73.6 336.0,73.6 340.3,73.7 344.6,73.7 348.9,73.7 353.2,73.6 353.2,67.8 356.5,68.7 358.1,75.4 359.0,77.9 362.7,78.9 367.4,80.8 371.1,79.7 376.3,79.0 379.5,81.6 383.2,83.3 386.9,84.4 391.8,86.9 396.9,84.7 399.0,84.5 404.4,85.8 408.7,87.2 412.1,86.9 M412.1,86.9 408.4,89.0 404.7,91.2 401.2,94.5 397.6,97.8 394.6,100.7 391.5,103.6 386.3,108.2 M373.4,375.0 379.4,373.8 383.0,373.7 386.7,373.5 390.5,373.4 394.2,373.3 398.5,372.3 400.9,374.2 404.6,377.2 410.5,380.8 415.0,380.3 419.5,382.4 424.0,382.1 426.9,379.4 431.3,379.4 435.7,382.4 439.5,381.5 437.3,379.3 432.8,377.1 429.9,374.2 432.2,372.0 432.8,369.0 430.5,367.4 430.0,365.6 M446.6,361.7 439.8,362.1 433.2,363.3 430.0,365.6 M446.6,361.7 449.9,362.4 450.0,357.5 451.2,356.0 452.7,357.3 452.9,362.7 455.4,362.8 458.8,362.4 M538.6,345.7 539.4,338.0 540.4,331.5 542.9,324.2 M458.8,362.4 463.4,361.0 468.0,359.6 472.0,359.4 476.0,359.1 483.2,362.8 487.9,368.6 493.3,367.9 498.4,365.0 502.1,361.4 506.0,360.1 511.1,362.6 515.1,366.8 519.1,371.0 524.4,375.0 525.2,378.9 526.0,382.8 526.9,387.9 527.8,392.9 530.9,398.1 534.0,403.2 540.5,409.6 543.0,414.1 545.6,418.6 552.0,421.0 554.7,426.3 557.1,428.7 562.2,429.4 566.2,426.8 567.2,421.1 567.6,416.6 568.0,412.2 567.1,407.1 566.2,401.9 563.5,396.7 560.3,390.4 557.1,384.1 555.2,380.3 553.4,376.5 551.2,372.7 549.1,368.9 546.3,364.2 543.5,359.5 540.3,352.1 538.6,345.7 M542.9,324.2 542.6,319.0 545.7,315.8 550.3,313.6 553.6,309.6 557.5,305.7 560.6,302.6 561.4,298.6 563.8,294.7 568.1,290.9 M568.1,290.9 572.5,284.3 576.0,280.7 579.5,277.1 584.3,276.0 589.0,274.9 591.4,271.3 587.2,270.1 583.1,268.8 584.3,265.4 580.7,261.8 584.3,257.2 588.9,252.3 586.9,249.4 591.0,244.5 592.9,242.5 M580.4,218.3 582.5,221.8 584.1,225.6 585.7,229.7 586.1,233.6 588.1,236.2 590.8,237.1 592.9,242.5 M593.5,219.3 592.4,221.8 590.8,228.1 589.3,233.2 589.5,225.9 589.6,219.6 M593.5,219.3 594.9,212.8 595.9,211.1 M580.7,196.4 582.0,199.5 581.6,202.9 582.0,207.0 583.0,211.0 584.5,215.1 586.5,218.5 589.6,219.6 M580.4,218.3 578.8,216.4 577.2,214.5 576.7,212.0 577.2,209.5 576.5,206.4 576.9,203.5 578.6,200.5 580.7,196.4 M587.3,191.2 586.5,194.6 589.2,198.9 594.5,205.8 595.9,211.1 M600.3,173.7 598.5,177.9 601.4,177.5 602.7,182.9 602.8,188.5 600.7,195.5 598.9,200.8 595.8,203.4 594.8,199.2 590.2,197.8 586.5,194.6 587.3,191.2 M522.2,168.8 526.5,165.3 530.0,162.8 M592.0,106.1 587.1,107.3 582.3,108.5 577.5,109.6 574.5,111.5 571.5,113.4 567.3,119.9 563.8,124.7 562.6,127.3 564.9,130.1 566.0,135.4 563.0,137.7 558.0,141.4 554.8,142.3 551.5,143.2 546.3,143.2 541.1,143.3 538.2,144.6 535.3,145.9 536.9,151.5 538.0,151.7 534.6,158.3 530.0,162.8 M603.4,168.1 602.2,170.5 600.3,173.7 M600.7,174.4 605.4,172.8 610.8,170.4 613.6,169.0 616.4,167.7 619.6,165.7 623.1,162.2 622.0,161.9 619.3,163.8 618.6,162.7 619.9,161.6 618.8,161.7 616.4,164.3 612.5,165.7 608.6,166.8 604.7,168.1 601.5,170.3 600.5,173.0 600.7,174.4 M622.1,157.1 619.3,158.6 616.6,160.0 613.8,161.1 611.0,162.2 606.9,165.3 603.4,168.1 M627.1,154.0 626.2,155.7 622.1,157.1 M627.8,131.5 629.6,134.8 628.0,138.5 628.4,140.3 632.0,141.9 634.3,145.1 637.5,147.8 637.4,148.8 634.6,149.9 632.2,150.0 631.1,151.8 629.9,152.5 627.1,154.0 M611.7,101.1 606.8,102.4 601.9,103.6 596.9,104.9 592.0,106.1 M611.7,101.1 615.0,95.5 M628.3,128.1 627.8,131.5 M628.3,128.1 628.9,122.1 630.6,116.7 633.3,114.2 634.1,111.5 638.6,109.8 641.2,108.0 641.6,102.7 641.2,99.1 643.9,100.9 646.5,102.7 649.2,100.9 651.8,99.1 655.4,95.6 658.8,92.1 660.5,90.0 M660.5,90.0 658.0,86.7 655.0,83.3 652.0,79.9 647.8,79.6 645.8,72.8 643.8,66.0 641.8,59.3 638.5,57.9 635.2,56.5 632.5,58.6 629.8,60.6 625.4,57.7 623.0,64.5 620.6,71.3 620.6,77.4 620.6,83.5 619.1,88.3 617.6,93.2 615.0,95.5 M489.3,177.6 491.5,172.3 492.1,168.2 494.2,167.1 498.2,162.6 497.9,156.3 496.7,152.1 495.5,147.9 492.4,142.0 489.5,140.8 485.9,143.7 483.5,146.2 480.5,147.2 480.1,143.2 482.5,139.4 484.4,136.3 484.5,131.4 483.5,126.5 482.0,123.2 479.6,120.7 474.6,119.6 470.7,118.2 465.8,116.2 464.3,118.1 463.4,119.7 464.3,122.1 465.9,123.1 462.9,124.6 460.9,125.4 459.4,127.5 458.9,132.4 457.9,128.4 457.5,126.5 456.0,129.4 454.2,131.7 452.5,137.4 451.4,143.0 451.1,150.9 453.6,158.1 456.0,164.9 455.7,171.0 453.6,175.9 450.5,181.6 M436.9,130.2 438.1,125.4 441.5,120.4 442.9,118.7 446.6,116.7 449.9,117.2 455.0,114.2 457.9,112.7 460.9,111.8 464.7,112.7 467.8,112.2 471.2,112.7 474.6,112.3 477.6,112.7 480.0,111.8 478.6,109.8 476.1,110.9 473.3,109.8 471.7,108.0 469.7,104.9 466.8,105.4 462.9,103.9 461.9,101.5 457.9,102.9 455.1,104.0 450.8,104.3 447.9,106.4 445.0,108.4 443.0,108.2 439.5,107.6 436.5,106.4 434.1,103.5 431.2,102.4 427.6,102.7 425.5,103.9 426.1,101.4 427.6,98.8 430.0,96.2 432.3,94.5 431.2,93.5 428.2,94.2 424.7,96.4 422.2,99.3 419.3,102.1 414.5,105.2 410.3,105.5 407.4,107.5 404.5,109.6 M438.2,171.0 436.9,163.3 437.9,155.3 438.4,147.4 439.0,141.8 440.2,137.0 442.6,132.1 443.8,127.2 440.8,130.6 437.8,134.8 434.3,139.1 433.1,138.4 434.9,133.5 436.9,130.2 M404.5,109.6 400.9,108.6 399.0,104.0 395.9,105.4 392.7,106.9 389.6,108.5 386.3,108.2 M438.2,171.0 440.3,178.8 442.3,182.4 M442.3,182.4 446.3,184.2 450.5,181.6 M489.3,177.6 494.8,179.7 498.5,180.8 503.1,180.5 506.5,179.4 509.9,178.4 515.0,173.6 518.6,171.2 522.2,168.8"/>
<path fill="#FFF46F" d="M572.2,205.3 L576,209.1 L572.2,212.9 L568.3,209.1Z"/>

<path d="M416.3,88.3 L423.2,83.9" stroke="#000" stroke-width="1.9" stroke-linecap="round" fill="none"/>
<ellipse cx="423" cy="366" rx="3.6" ry="2.5" fill="#AADFEB"/>
<path fill="#fff" stroke-width="1.1" d="M36.5,269.4 L40,269.6 L45.3,270.4 L45.6,271.3 L41,271.2 L36.7,270.7Z"/>
<path fill="#222" d="M55,282.6 L57.2,283.5 L58.2,285.8 L56.6,286.3 L55,284.5Z"/>
<path fill="#111" stroke-width="0.6" d="M53.2,289.2 L54.2,289.5 L56,292.8 L55.3,293.4 L53.5,290.8Z"/>
<path fill="#AADFEB" d="M23.9,203.6 L25,200.5 L25.7,198.8 L27.5,198.3 L28.5,199.2 L26.8,200.8 L26.5,203 L27.2,205.5 L28.5,208 L29.5,211 L28.6,211.3 L26.5,208.2 L25,205.5Z"/>
<path d="M27.6,200 L30,201.1 L32.5,201.6 L35.2,201.8 L37,202.4" stroke="#000" stroke-width="1.4" fill="none"/>
<circle cx="36.4" cy="202.6" r="1.1" fill="#000"/>
<path fill="#111" stroke-width="0.5" d="M66.3,44.8 L68.8,42.6 L70.9,43.8 L70.7,47.5 L69.5,50.3 L67.6,50 L67.9,47.6 L66.6,46.6Z"/>
<path stroke-width="1.1" fill="none" d="M68.6,50.5 L67.6,53.5 L66,56.5"/>
<ellipse cx="65.1" cy="40.4" rx="0.8" ry="1.3" fill="#111"/>
<path fill="#111" stroke-width="0.5" d="M626.2,150.3 L628.5,150.8 L630.6,152.5 L629.5,154.2 L627,153.8 L626.2,152.5Z"/>
<path d="M637.6,148.2 L641,145.8 L641.5,143.9 L639.8,141.9 L637.8,141.6" stroke="#000" stroke-width="1.7" fill="none"/>
<path fill="#2a2a1a" stroke-width="0.5" d="M633.6,153.4 L636,152.8 L637.6,153.4 L636.8,154.6 L634.2,154.6Z"/>
<path fill="#111" stroke-width="0.5" d="M641.4,154.2 L643.6,152.1 L644.2,153.6Z"/>
<g stroke="#000" stroke-width="1.3" fill="none">
<path d="M592.9,242.6 L597.3,250 L599.6,254.8 L600.8,260.6 L597.3,264.2 L592.5,267.7 L591.4,271.3"/>
<path stroke-width="1.3" d="M46.6,61.2 L48.5,60.6 L50.2,61.5"/>
<path stroke-width="1.3" d="M46.2,66 L47.3,68.3 L46.6,70.8"/>
<path stroke-width="1.6" d="M551.6,372.4 L553.6,375.2 L555.4,378.6"/>
<ellipse cx="556.8" cy="428.6" rx="1.7" ry="0.9" fill="#000" stroke="none"/>
<path stroke-width="1.1" d="M527.6,389.5 L530.2,390.8 L528.8,393 L530.6,394.5"/>
<path stroke-width="1.1" d="M535.6,404.6 L537.8,405.4 L537,407.2 L539.4,408.2 L540.4,410.6"/>
<path stroke-width="1" d="M464.2,112.4 L465.6,116.3"/>
<path stroke-width="1" d="M324.2,413 L325.6,421 L326.4,428 L326.2,433.4"/>
<path d="M577.1 L580,224.8 L584.1,228.5"/>
<path d="M577.9,232.4 L581,233.4 L585.3,235.9"/>
<path d="M577.9,235.1 L581.5,236.6 L584.9,238.7"/>
</g>

<path fill="#DEC79C" stroke-width="1.4" d="M70.0,391.3 73.1,390.5 75.9,388.9 77.9,390.5 81.0,390.9 83.0,392.4 85.7,392.0 88.9,393.2 92.8,393.6 95.1,392.8 99.1,394.4 104.6,423.0 107.2,433.4 110.3,433.4 113.9,435.6 117.4,434.3 119.2,433.4 122.8,435.6 126.0,438.5 121.0,440.0 116.0,439.5 112.1,437.8 108.5,436.0 105.9,436.0 103.3,435.4 99.7,434.8 97.9,433.6 96.2,432.7 93.8,432.4 91.4,432.7 90.2,433.9 89.6,436.3 87.8,438.7 85.5,440.8 84.0,441.0 84.3,438.7 84.9,436.3 86.0,434.5 85.5,433.3 83.7,434.5 81.9,436.9 80.1,439.9 78.9,441.3 80.1,442.8 78.3,445.2 75.9,447.6 74.5,449.8 68.3,452.5 61.2,455.1 55.9,457.8 52.1,459.4 53.5,457.6 55.9,455.1 61.2,452.5 66.5,449.8 70.9,446.3 72.7,442.8 70.1,441.9 67.8,441.6 64.6,442.6 61.9,442.4 61.9,438.9 61.5,435.7 58.0,436.5 58.0,433.8 56.4,431.4 54.4,429.4 55.2,427.9 57.6,425.5 58.8,423.1 60.7,422.4 63.9,421.2 66.2,420.0 66.2,418.0 64.6,416.4 59.9,416.8 57.2,415.3 56.8,413.3 55.2,412.1 54.0,410.5 57.6,409.4 60.7,408.2 62.7,408.6 68.6,409.0 63.9,406.6 62.7,404.6 60.7,401.9 59.1,399.9 60.7,398.0 65.0,396.8 66.2,393.6 68.6,392.5Z"/><path fill="#3d3325" stroke="#111" stroke-width="1.6" d="M117.4,434.3 119.2,433.4 122.8,435.6 128.1,440.5 133.5,444.1 136.2,445.9 137.1,448.5 133.5,451.2 130.8,451.6 127.3,447.6 122.8,445.0 119.2,441.4 115.7,439.6 113.0,438.2 115.0,436.5Z"/><path fill="none" stroke="#111" stroke-width="1.3" d="M119.5,436 L124,440 L129,443.5 L134,447 M122,438.5 L127,444 L131,448.5 M116,437.5 L121,441.2"/>
<path fill="#111" d="M45,417.3 L47.5,417.2 L49.5,419 L50.8,420.6 L49.6,421.2 L47.8,419.6 L45.2,418.5Z"/>
<path fill="#DEC79C" d="M50.6,434.6 L52.5,434 L54.4,435 L53.2,436.4 L51,436Z"/>
<path fill="#AADFEB" stroke-width="1.3" d="M92,433.4 L94,432.9 L96.3,433.6 L95.8,435.5 L94,436.4 L92.4,435.8Z"/>
<path fill="#DEC79C" stroke-width="1.5" d="M83.3,444.9 L84.2,447.1 L81.3,450.1 L78.6,451.8 L77.3,450 L79.5,447.3 L81.8,445.3Z"/>
<path fill="#111" d="M40,464 L43,462.3 L46,461.5 L48.5,460.8 L47,462.6 L43.5,463.8Z"/>
<path fill="#111" d="M16,462.2 L18,461.8 L18.6,463 L16.6,463.2Z M20.5,462.8 L22,462.6 L22.4,463.6 L20.8,463.7Z M23.8,463 L27,462.7 L27.2,463.8 L24,463.9Z"/>
<g fill="#fff">
<path d="M168.5,431 L171,429.3 L174.2,429.8 L175,432.3 L173.5,434.6 L170,435 L168.2,433.4Z"/>
<path fill="#111" d="M161.4,435.6 L162.5,433.4 L164.2,433 L163.4,435.2Z"/>
<path d="M188.4,439.8 L191.9,437.4 L193.8,439.3 L194.8,440.8 L196.8,442.8 L194.3,443.8 L190.9,443.3 L189.4,441.8Z"/>
<path fill="#555" d="M202.2,445 L205,444.6 L210,445 L209.6,446.2 L205,446 L202.4,446.1Z"/>
<path d="M206.1,450 L207.3,449 L208.6,450 L208,451.2 L206.6,451.2Z"/>
<path d="M213,448.2 L217.4,449.2 L219.9,450.6 L220.4,452.1 L216.9,453.6 L214.5,454.1 L213.5,451.6Z"/>
<path d="M210.8,448.5 L212,448.3 L212,449.3 L211,449.4Z"/>
<path d="M222.3,458.5 L225.3,460 L230.2,462.4 L234.1,466.8 L236.6,469.8 L233.1,472.2 L229.2,474.7 L224.3,477.2 L221.8,475.7 L220.9,471.3 L219.4,465.4 L220.9,462.4Z"/>
</g>
</g>
<rect x="11.7" y="374.8" width="132.8" height="116.2" fill="none" stroke="#000" stroke-width="1.6"/>
<rect x="156.8" y="416.7" width="85.5" height="70.4" fill="none" stroke="#000" stroke-width="1.6"/>
<g font-size="14.4">
<text x="405.1" y="403.7" textLength="76.5" lengthAdjust="spacingAndGlyphs">Percentages</text>
<text x="408.5" y="419.3" textLength="65.6" lengthAdjust="spacingAndGlyphs">of Persons</text>
</g>
<line x1="402.9" y1="422.5" x2="510.3" y2="422.5" stroke="#000" stroke-width="1.7"/>
<g stroke="#333" stroke-width="1">
<rect x="403" y="426.1" width="22.5" height="11" fill="#B8355A"/>
<rect x="403" y="440.5" width="22.5" height="11" fill="#FBA537"/>
<rect x="403" y="454.9" width="22.5" height="11" fill="#FFF46F"/>
<rect x="403" y="469.3" width="22.5" height="11" fill="#DEC79C"/>
<rect x="403" y="483.7" width="22.5" height="11" fill="#FFFFFF"/>
</g>
<g font-size="14.4">
<text x="431.3" y="436.6" textLength="65.4" lengthAdjust="spacingAndGlyphs">7.39 - 8.39</text>
<text x="431.3" y="450.95" textLength="65.4" lengthAdjust="spacingAndGlyphs">6.76 - 7.38</text>
<text x="431.3" y="465.3" textLength="65.4" lengthAdjust="spacingAndGlyphs">6.50 - 6.75</text>
<text x="431.3" y="479.65" textLength="65.4" lengthAdjust="spacingAndGlyphs">6.09 - 6.49</text>
<text x="431.3" y="494.0" textLength="65.4" lengthAdjust="spacingAndGlyphs">5.25 - 6.08</text>
</g>
</svg>
</body></html>
